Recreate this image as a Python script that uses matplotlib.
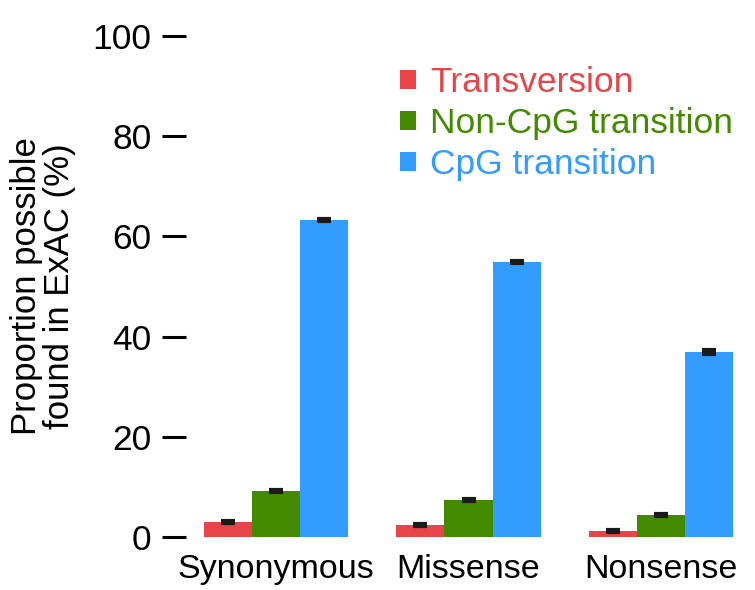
import matplotlib
matplotlib.use("Agg")
import matplotlib.pyplot as plt
import numpy as np
from matplotlib.patches import Patch

plt.rcParams['font.family'] = ['Liberation Sans', 'DejaVu Sans']

categories = ["Synonymous", "Missense", "Nonsense"]
series_names = ["Transversion", "Non-CpG transition", "CpG transition"]
transversion = [3.0, 2.4, 1.2]
non_cpg = [9.2, 7.4, 4.4]
cpg = [63.3, 54.9, 36.9]
err_transversion = [0.2, 0.2, 0.2]
err_non_cpg = [0.2, 0.2, 0.2]
err_cpg = [0.2, 0.2, 0.4]
yticks = [0, 20, 40, 60, 80, 100]

colors = ["#E8454A", "#448A00", "#339CFF"]

W, H = 755, 590
fig = plt.figure(figsize=(W / 100, H / 100), dpi=100)
left_px, right_px = 186, 745
y0_px, y100_px = 537, 36
ax = fig.add_axes([left_px / W, (H - y0_px) / H, (right_px - left_px) / W, (y0_px - y100_px) / H])

x = np.arange(len(categories))
bw = 0.25
data = [transversion, non_cpg, cpg]
errs = [err_transversion, err_non_cpg, err_cpg]
for i, (vals, e, c) in enumerate(zip(data, errs, colors)):
    xs = x + (i - 1) * bw
    ax.bar(xs, vals, width=bw, color=c, edgecolor='none')
    ax.errorbar(xs, vals, yerr=e, fmt='none', ecolor='#1a1a1a', elinewidth=3,
                capsize=5, capthick=3)

ax.set_xlim((left_px - 276) / 192.5, (right_px - 276) / 192.5)
ax.set_ylim(0, 100)
ax.set_yticks(yticks)
ax.set_yticklabels([str(v) for v in yticks])
ax.set_xticks(x)
ax.set_xticklabels(categories)
for s in ax.spines.values():
    s.set_visible(False)
ax.tick_params(axis='y', direction='out', length=17, width=2.2, pad=8, labelsize=25.5, color='black')
ax.tick_params(axis='x', length=0, pad=12, labelsize=24.5)

ax.set_ylabel("Proportion possible\nfound in ExAC (%)", fontsize=25, labelpad=12, linespacing=1.0)

handles = [Patch(facecolor=c, edgecolor='none') for c in colors]
leg = ax.legend(handles, series_names, loc='upper left', bbox_to_anchor=(0.358, 0.968),
                frameon=False, fontsize=25.5, handlelength=0.45, handleheight=0.45,
                handletextpad=0.4, labelspacing=0.22, borderaxespad=0)
for t, c in zip(leg.get_texts(), colors):
    t.set_color(c)

fig.savefig("out.png", dpi=100)
